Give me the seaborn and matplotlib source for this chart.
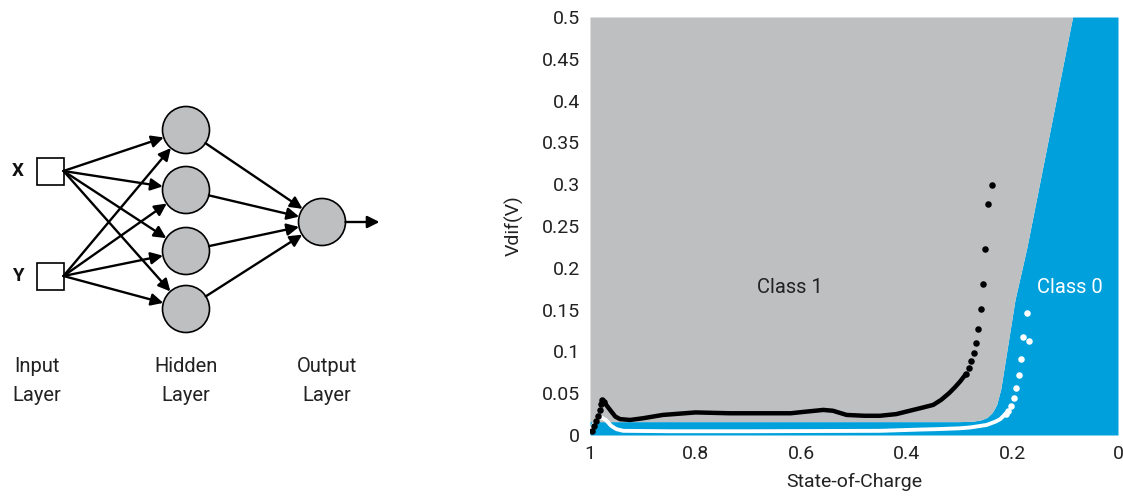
import numpy as np
import pandas as pd
import matplotlib
matplotlib.use("Agg")
import matplotlib.pyplot as plt
import seaborn as sb
from matplotlib.patches import Circle, Rectangle

# decision boundary (State-of-Charge, Vdif) between class 1 (above) and class 0
boundary_soc = [1.0, 0.30, 0.275, 0.260, 0.248, 0.238, 0.230, 0.222, 0.195, 0.173, 0.086, 0.0]
boundary_v = [0.016, 0.016, 0.0165, 0.018, 0.021, 0.027, 0.036, 0.055, 0.162, 0.223, 0.5, 0.5]

# class 1 cell (black): sparse points at the start and the end, dense curve between
c1_start_soc = [0.996, 0.992, 0.988, 0.985, 0.982, 0.980, 0.978, 0.974]
c1_start_v = [0.005, 0.011, 0.017, 0.023, 0.030, 0.037, 0.042, 0.040]
c1_curve_soc = [0.974, 0.968, 0.962, 0.952, 0.943, 0.924, 0.90, 0.862, 0.80, 0.735,
                0.672, 0.62, 0.59, 0.558, 0.54, 0.514, 0.48, 0.451, 0.42, 0.388,
                0.375, 0.350, 0.335, 0.320, 0.309, 0.299, 0.288]
c1_curve_v = [0.040, 0.035, 0.030, 0.022, 0.019, 0.018, 0.020, 0.024, 0.027, 0.026,
              0.026, 0.026, 0.028, 0.030, 0.029, 0.024, 0.023, 0.023, 0.025, 0.030,
              0.032, 0.036, 0.042, 0.050, 0.057, 0.064, 0.073]
c1_end_soc = [0.288, 0.283, 0.279, 0.273, 0.269, 0.265, 0.260, 0.255, 0.251, 0.247, 0.239]
c1_end_v = [0.073, 0.080, 0.088, 0.098, 0.110, 0.127, 0.151, 0.181, 0.222, 0.276, 0.299]

# class 0 cell (white)
c0_curve_soc = [1.0, 0.993, 0.985, 0.978, 0.970, 0.960, 0.950, 0.937, 0.85, 0.70,
                0.55, 0.45, 0.375, 0.343, 0.30, 0.280, 0.249, 0.232, 0.223, 0.215]
c0_curve_v = [0.004, 0.013, 0.019, 0.021, 0.018, 0.011, 0.007, 0.005, 0.0045, 0.0045,
              0.0048, 0.005, 0.0065, 0.007, 0.008, 0.009, 0.012, 0.016, 0.019, 0.024]
c0_end_soc = [0.212, 0.208, 0.203, 0.197, 0.193, 0.188, 0.184, 0.179, 0.168, 0.173]
c0_end_v = [0.025, 0.029, 0.035, 0.044, 0.056, 0.072, 0.091, 0.117, 0.113, 0.146]

x_ticks = [1, 0.8, 0.6, 0.4, 0.2, 0]
x_labels = ["1", "0.8", "0.6", "0.4", "0.2", "0"]
y_ticks = [0, 0.05, 0.1, 0.15, 0.2, 0.25, 0.3, 0.35, 0.4, 0.45, 0.5]
y_labels = ["0", "0.05", "0.1", "0.15", "0.2", "0.25", "0.3", "0.35", "0.4", "0.45", "0.5"]

GRAY = "#BEBFC1"
BLUE = "#00A0DC"
INK = "#222222"

sb.set_theme(style="white")
plt.rcParams["font.family"] = ["Roboto", "DejaVu Sans"]

fig = plt.figure(figsize=(11.23, 4.97), dpi=100)

# ---------------- network diagram (pixel coords) ----------------
ax0 = fig.add_axes([0, 0, 505 / 1123, 1])
ax0.set_xlim(0, 505)
ax0.set_ylim(497, 0)
ax0.axis("off")

inputs = {"X": (50, 171), "Y": (50, 276)}
hidden = [(186, 130), (186, 190), (186, 251), (186, 309)]
output = (322, 222)
r = 23.5
half = 13.5

def arrow(p, q):
    ax0.annotate("", xy=q, xytext=p,
                 arrowprops=dict(arrowstyle="-|>", color="black", lw=1.7,
                                 mutation_scale=18, shrinkA=0, shrinkB=0))

def edge_point(c, p):
    # point on circle c facing p
    d = np.array(p) - np.array(c)
    d = d / np.linalg.norm(d)
    return (c[0] + d[0] * r, c[1] + d[1] * r)

for name, (cx, cy) in inputs.items():
    ax0.add_patch(Rectangle((cx - half, cy - half), 2 * half, 2 * half,
                            facecolor="white", edgecolor="black", lw=1.2, zorder=3))
    ax0.text(cx - 32, cy, name, ha="center", va="center", fontsize=13.5,
             fontweight="bold", color="#111111")
    for h in hidden:
        start = (cx + half, cy)
        arrow(start, edge_point(h, start))

for h in hidden:
    ax0.add_patch(Circle(h, r, facecolor=GRAY, edgecolor="black", lw=1.2, zorder=3))
    start = edge_point(h, output)
    arrow(start, edge_point(output, h))

ax0.add_patch(Circle(output, r, facecolor=GRAY, edgecolor="black", lw=1.2, zorder=3))
arrow((output[0] + r, output[1]), (output[0] + r + 34, output[1]))

for x, txt in [(37, "Input\nLayer"), (186, "Hidden\nLayer"), (327, "Output\nLayer")]:
    ax0.text(x, 381, txt, ha="center", va="center", fontsize=14.5,
             linespacing=1.7, color=INK)

# ---------------- classification chart ----------------
ax = fig.add_axes([590 / 1123, 62 / 497, 528 / 1123, 418 / 497])

ax.fill_between(boundary_soc, 0, boundary_v, color=BLUE, lw=0, zorder=1)
ax.fill_between(boundary_soc, boundary_v, 0.5, color=GRAY, lw=0, zorder=1)

c1_curve = pd.DataFrame({"soc": c1_curve_soc, "v": c1_curve_v})
c0_curve = pd.DataFrame({"soc": c0_curve_soc, "v": c0_curve_v})
sb.lineplot(data=c1_curve, x="soc", y="v", sort=False, color="black", lw=3.2, ax=ax, zorder=3)
sb.lineplot(data=c0_curve, x="soc", y="v", sort=False, color="white", lw=2.8, ax=ax, zorder=3)
sb.scatterplot(x=c1_start_soc + c1_end_soc, y=c1_start_v + c1_end_v, color="black",
               s=22, linewidth=0, ax=ax, zorder=4)
sb.scatterplot(x=c0_end_soc, y=c0_end_v, color="white", s=22, linewidth=0, ax=ax, zorder=4)

ax.text(0.621, 0.176, "Class 1", ha="center", va="center", fontsize=14.5, color=INK)
ax.text(0.091, 0.176, "Class 0", ha="center", va="center", fontsize=14.5, color="white")

ax.set_xlim(1, 0)
ax.set_ylim(0, 0.5)
ax.set_xticks(x_ticks)
ax.set_xticklabels(x_labels)
ax.set_yticks(y_ticks)
ax.set_yticklabels(y_labels)
ax.tick_params(axis="both", length=0, labelsize=14, colors=INK, pad=7)
ax.set_xlabel("State-of-Charge", fontsize=14, color=INK, labelpad=7)
ax.set_ylabel("Vdif(V)", fontsize=14, color=INK, labelpad=13)
for s in ax.spines.values():
    s.set_visible(False)

fig.savefig("out.png", dpi=100)
